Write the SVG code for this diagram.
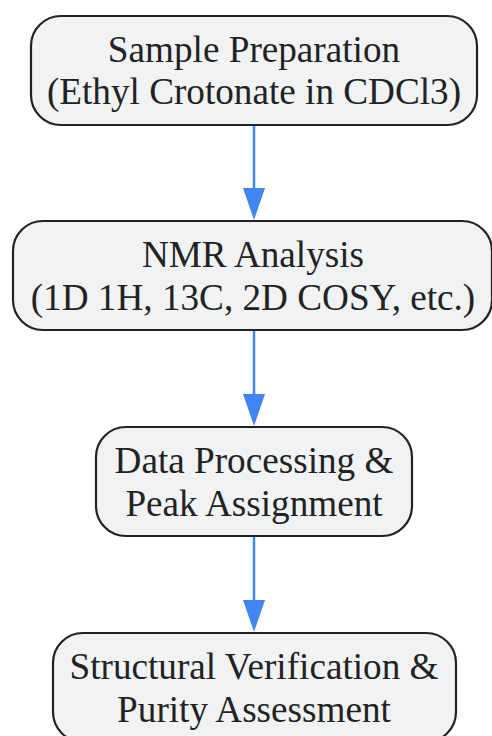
<svg xmlns="http://www.w3.org/2000/svg" width="492" height="736" viewBox="0 0 492 736">
<defs>
<style>
.node rect{fill:#f1f2f4;stroke:#222;stroke-width:2.2}
.node text{font-family:"Liberation Serif","Times New Roman",serif;font-size:37.2px;fill:#222;text-anchor:middle}
.edge{stroke:#4285f4;stroke-width:2.5;fill:none}
.head{fill:#4285f4}
</style>
</defs>
<rect width="492" height="736" fill="#fff"/>
<g id="connectors">
<line class="edge" x1="254" y1="126" x2="254" y2="192"/>
<polygon class="head" points="243,188 265,188 254,220"/>
<line class="edge" x1="254" y1="331" x2="254" y2="398"/>
<polygon class="head" points="243,394 265,394 254,426"/>
<line class="edge" x1="254" y1="537" x2="254" y2="604"/>
<polygon class="head" points="243,600 265,600 254,632"/>
</g>
<g id="n1" class="node">
<rect x="31" y="16" width="446" height="109" rx="30"/>
<text x="254" y="62">Sample Preparation</text>
<text x="254" y="104">(Ethyl Crotonate in CDCl3)</text>
</g>
<g id="n2" class="node">
<rect x="13" y="221" width="479" height="109" rx="30"/>
<text x="253" y="267">NMR Analysis</text>
<text x="253" y="310">(1D 1H, 13C, 2D COSY, etc.)</text>
</g>
<g id="n3" class="node">
<rect x="96" y="427" width="316" height="109" rx="30"/>
<text x="254" y="473">Data Processing &amp;</text>
<text x="254" y="516">Peak Assignment</text>
</g>
<g id="n4" class="node">
<rect x="53" y="633" width="403" height="109" rx="30"/>
<text x="254" y="679">Structural Verification &amp;</text>
<text x="254" y="722">Purity Assessment</text>
</g>
</svg>
